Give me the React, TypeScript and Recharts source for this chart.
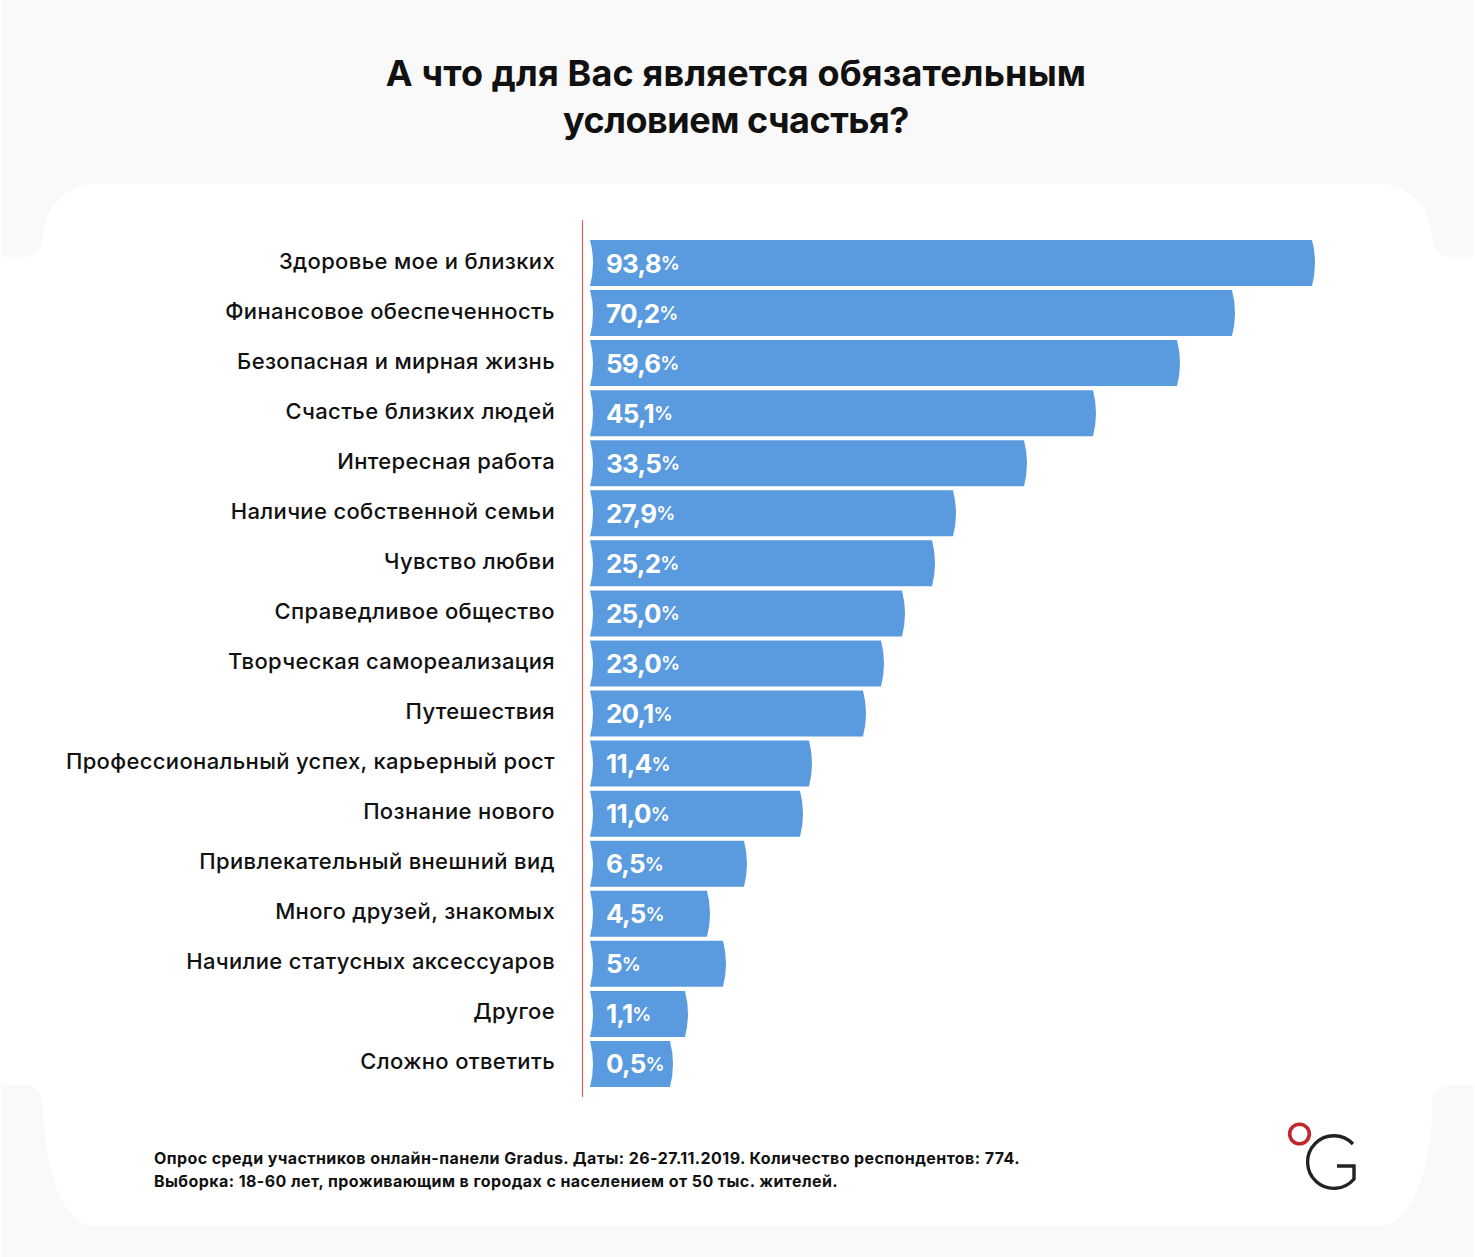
import { BarChart, Bar, XAxis, YAxis, LabelList } from "recharts";

const FONT = "Inter, 'Noto Sans', sans-serif";
const BLUE = "#5a9bdf";

const categories = [
  "Здоровье мое и близких",
  "Финансовое обеспеченность",
  "Безопасная и мирная жизнь",
  "Счастье близких людей",
  "Интересная работа",
  "Наличие собственной семьи",
  "Чувство любви",
  "Справедливое общество",
  "Творческая самореализация",
  "Путешествия",
  "Профессиональный успех, карьерный рост",
  "Познание нового",
  "Привлекательный внешний вид",
  "Много друзей, знакомых",
  "Начилие статусных аксессуаров",
  "Другое",
  "Сложно ответить",
];

// printed values
const percentLabels = ["93,8", "70,2", "59,6", "45,1", "33,5", "27,9", "25,2", "25,0", "23,0", "20,1", "11,4", "11,0", "6,5", "4,5", "5", "1,1", "0,5"];

// the drawn bars are not proportional to the printed values, so lengths are read off the picture
const barLengths = [725, 645, 590, 506, 437, 366, 345, 315, 294, 276, 222, 213, 157, 120, 136, 98, 83];

const titleLines = ["А что для Вас является обязательным", "условием счастья?"];
const noteLines = [
  "Опрос среди участников онлайн-панели Gradus. Даты: 26-27.11.2019. Количество респондентов: 774.",
  "Выборка: 18-60 лет, проживающим в городах с населением от 50 тыс. жителей.",
];

const table = categories.map((name, i) => ({ name, length: barLengths[i], label: percentLabels[i] }));

function CurvedBar({ x, y, width, height }: any) {
  const r = x + width;
  const mid = y + height / 2;
  return (
    <path
      d={`M${x} ${y} L${r - 3} ${y} Q${r + 3} ${mid} ${r - 3} ${y + height} L${x} ${y + height} Q${x + 6} ${mid} ${x} ${y} Z`}
      fill={BLUE}
    />
  );
}

function CategoryTick({ x, y, payload }: any) {
  return (
    <text x={x} y={y - 2.5} textAnchor="end" dominantBaseline="central" fontFamily={FONT} fontSize={22} fontWeight={500} letterSpacing={0.35} fill="#111">
      {payload.value}
    </text>
  );
}

function PercentLabel({ x, y, height, value }: any) {
  return (
    <text x={x + 16} y={y + height / 2} dominantBaseline="central" fontFamily={FONT} fontWeight={700} fontSize={26} letterSpacing={-0.8} fill="#fff">
      {value}
      <tspan fontSize={19} fontWeight={600} letterSpacing={0}>%</tspan>
    </text>
  );
}

function Backdrop() {
  return (
    <svg width={1475} height={1257} style={{ position: "absolute", left: 0, top: 0 }}>
      <rect x={1} y={0} width={1472} height={1257} fill="#f9f9f9" />
      <path
        d="M95 184 H1380 C1410 184 1432 210 1432 238 C1432 250 1442 257 1452 257 H1473 V1085 H1452 C1440 1085 1432 1092 1432 1105 C1432 1160 1415 1226 1380 1226 H95 C60 1226 43 1160 43 1105 C43 1092 35 1085 23 1085 H1 V257 H23 C35 257 43 250 43 238 C43 210 65 184 95 184 Z"
        fill="#fff"
      />
      <line x1={582.5} y1={220} x2={582.5} y2={1097} stroke="#e0605f" strokeWidth={1.2} />
      {titleLines.map((t, i) => (
        <text key={t} x={736} y={73 + i * 47} textAnchor="middle" dominantBaseline="central" fontFamily={FONT} fontWeight={700} fontSize={36} letterSpacing={i === 0 ? 0.15 : -0.5} fill="#111">
          {t}
        </text>
      ))}
      {noteLines.map((t, i) => (
        <text key={t} x={154} y={1158 + i * 23} dominantBaseline="central" fontFamily={FONT} fontWeight={700} fontSize={16} letterSpacing={0.42} fill="#111">
          {t}
        </text>
      ))}
      <circle cx={1299.5} cy={1134} r={9.8} fill="none" stroke="#c1272d" strokeWidth={3.6} />
      <path d="M1353 1144 A26.3 26.3 0 1 0 1354 1179 V1166 H1337" fill="none" stroke="#222" strokeWidth={3.4} />
    </svg>
  );
}

export default function App() {
  return (
    <div style={{ position: "absolute", left: 0, top: 0, width: 1475, height: 1257, background: "#fff" }}>
      <Backdrop />
      <div style={{ position: "absolute", left: 0, top: 0 }}>
        <BarChart
          width={1475}
          height={1257}
          data={table}
          layout="vertical"
          margin={{ top: 238, right: 160, bottom: 168, left: 0 }}
          barCategoryGap={2}
        >
          <XAxis type="number" domain={[0, 725]} hide />
          <YAxis
            type="category"
            dataKey="name"
            width={590}
            interval={0}
            axisLine={false}
            tickLine={false}
            tickMargin={29}
            tick={<CategoryTick />}
          />
          <Bar dataKey="length" barSize={46} shape={<CurvedBar />} isAnimationActive={false}>
            <LabelList dataKey="label" content={<PercentLabel />} />
          </Bar>
        </BarChart>
      </div>
    </div>
  );
}
